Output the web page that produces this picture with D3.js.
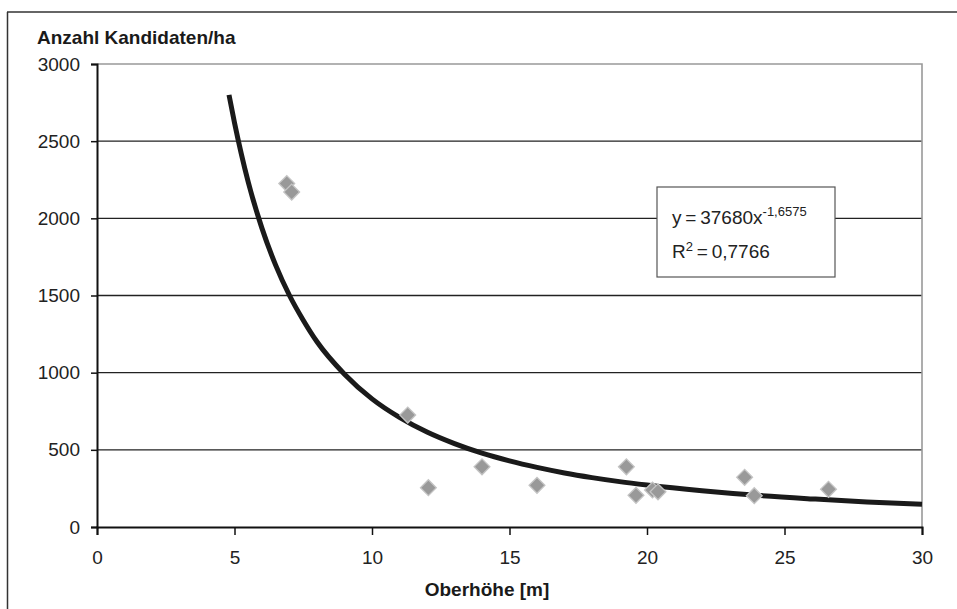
<!DOCTYPE html>
<html>
<head>
<meta charset="utf-8">
<script src="https://cdn.jsdelivr.net/npm/d3@7"></script>
<style>
  body { margin: 0; background: #fff; }
  svg { display: block; font-family: "Liberation Sans", Arial, sans-serif; }
</style>
</head>
<body>
<div id="chart"></div>
<script>
// measured points (Oberhöhe [m], Kandidaten/ha)
var pointsX = [6.9, 7.08, 11.3, 12.05, 14.0, 16.0, 19.25, 19.6, 20.2, 20.4, 23.55, 23.9, 26.6];
var pointsY = [2225, 2170, 725, 255, 390, 270, 390, 205, 240, 228, 322, 203, 244];

// power trend line
var trendX = [4.8, 5, 5.5, 6, 6.5, 7, 7.5, 8, 9, 10, 11, 12, 13, 14, 15, 16, 17, 18, 19, 20, 22, 24, 26, 28, 30];
var trendY = [2800, 2620, 2235, 1935, 1695, 1500, 1340, 1200, 990, 830, 710, 615, 540, 478, 428, 386, 350, 320, 294, 272, 235, 205, 182, 162, 148];

var xTicks = [0, 5, 10, 15, 20, 25, 30];
var yTicks = [0, 500, 1000, 1500, 2000, 2500, 3000];

var width = 957, height = 609;
var margin = {top: 64, right: 35, bottom: 82, left: 97};
var fontSize = 19;

var svg = d3.select("#chart").append("svg")
  .attr("width", width)
  .attr("height", height);

// outer frame (only top and left survive in the scan)
svg.append("line").attr("x1", 7).attr("x2", width).attr("y1", 12).attr("y2", 12)
  .attr("stroke", "#333").attr("stroke-width", 1.5);
svg.append("line").attr("x1", 7.5).attr("x2", 7.5).attr("y1", 12).attr("y2", height)
  .attr("stroke", "#333").attr("stroke-width", 1.5);

var x = d3.scaleLinear().domain([0, 30]).range([margin.left, width - margin.right]);
var y = d3.scaleLinear().domain([0, 3000]).range([height - margin.bottom, margin.top]);

// gridlines
svg.append("g")
  .selectAll("line")
  .data(yTicks.filter(function(d) { return d > 0 && d < 3000; }))
  .join("line")
    .attr("x1", x(0)).attr("x2", x(30))
    .attr("y1", function(d) { return y(d); })
    .attr("y2", function(d) { return y(d); })
    .attr("stroke", "#222")
    .attr("stroke-width", 1.4);

// plot area top / right border (grey)
svg.append("path")
  .attr("d", "M" + x(0) + "," + y(3000) + "H" + x(30) + "V" + y(0))
  .attr("fill", "none")
  .attr("stroke", "#999")
  .attr("stroke-width", 1.6);

// axes
var xAxis = svg.append("g")
  .attr("transform", "translate(0," + y(0) + ")")
  .call(d3.axisBottom(x).tickValues(xTicks).tickFormat(d3.format("d")).tickSize(8).tickPadding(16));
var yAxis = svg.append("g")
  .attr("transform", "translate(" + x(0) + ",0)")
  .call(d3.axisLeft(y).tickValues(yTicks).tickFormat(d3.format("d")).tickSize(6).tickPadding(11));

[xAxis, yAxis].forEach(function(a) {
  a.select(".domain").attr("stroke", "#111").attr("stroke-width", 2);
  a.selectAll(".tick line").attr("stroke", "#111").attr("stroke-width", 1.5);
  a.selectAll(".tick text")
    .attr("fill", "#222")
    .attr("font-size", fontSize)
    .attr("font-family", "'Liberation Sans', Arial, sans-serif");
});

// trend line
var line = d3.line()
  .x(function(d) { return x(d[0]); })
  .y(function(d) { return y(d[1]); })
  .curve(d3.curveMonotoneX);

svg.append("path")
  .datum(d3.zip(trendX, trendY))
  .attr("d", line)
  .attr("fill", "none")
  .attr("stroke", "#1a1a1a")
  .attr("stroke-width", 5)
  .attr("stroke-linejoin", "round");

// diamonds
var diamond = d3.symbol().type(d3.symbolSquare).size(125);
svg.append("g")
  .selectAll("path")
  .data(d3.zip(pointsX, pointsY))
  .join("path")
    .attr("d", diamond)
    .attr("transform", function(d) {
      return "translate(" + x(d[0]) + "," + y(d[1]) + ") rotate(45)";
    })
    .attr("fill", "#999")
    .attr("stroke", "#c4c4c4")
    .attr("stroke-width", 1.3);

// equation box
var box = svg.append("g").attr("transform", "translate(657,187)");
box.append("rect")
  .attr("width", 178).attr("height", 90)
  .attr("fill", "#fff")
  .attr("stroke", "#555")
  .attr("stroke-width", 1.2);
var eq = box.append("text")
  .attr("x", 15).attr("y", 37)
  .attr("font-size", fontSize).attr("fill", "#222");
eq.append("tspan").text("y\u2009=\u200937680x");
eq.append("tspan").attr("font-size", 13).attr("dy", -8).text("-1,6575");
var r2 = box.append("text")
  .attr("x", 15).attr("y", 71)
  .attr("font-size", fontSize).attr("fill", "#222");
r2.append("tspan").text("R");
r2.append("tspan").attr("font-size", 13).attr("dy", -7).text("2");
r2.append("tspan").attr("dy", 7).text("\u2009=\u20090,7766");

// axis titles
svg.append("text")
  .attr("x", 37).attr("y", 44)
  .attr("font-size", fontSize).attr("font-weight", "bold").attr("fill", "#1a1a1a")
  .text("Anzahl Kandidaten/ha");
svg.append("text")
  .attr("x", 487).attr("y", 596)
  .attr("text-anchor", "middle")
  .attr("font-size", fontSize).attr("font-weight", "bold").attr("fill", "#1a1a1a")
  .text("Oberhöhe [m]");
</script>
</body>
</html>
